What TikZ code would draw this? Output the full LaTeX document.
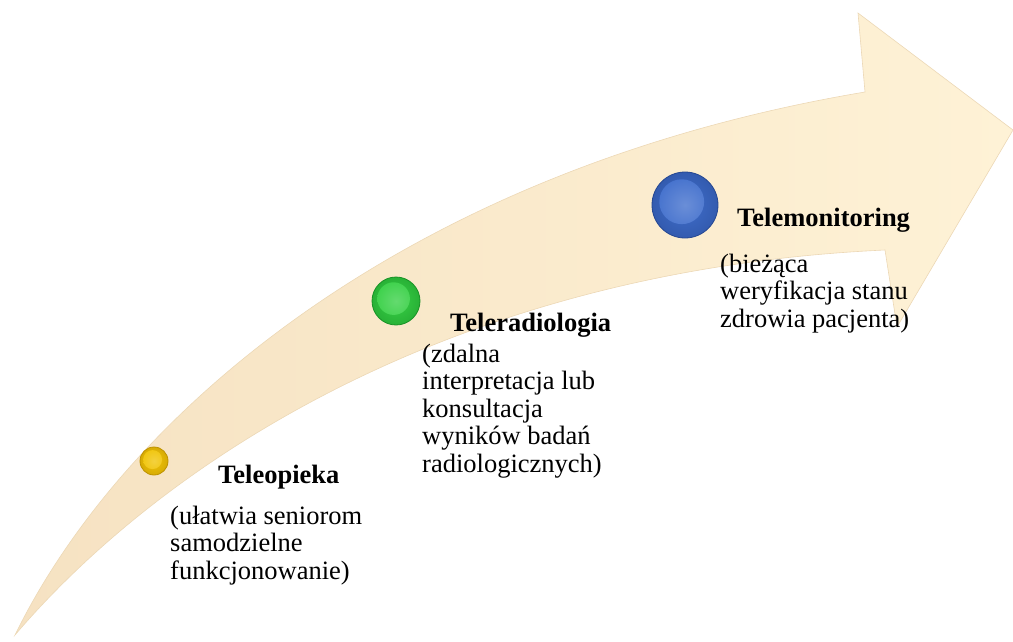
\documentclass[tikz,border=0pt]{standalone}
\usepackage{fontspec}
\setmainfont{Liberation Serif}
\definecolor{armL}{RGB}{246,226,194}
\definecolor{armR}{RGB}{254,242,214}
\definecolor{armEdge}{RGB}{236,216,182}
\definecolor{ylw}{RGB}{240,196,8}
\definecolor{ylwD}{RGB}{190,146,0}
\definecolor{grn}{RGB}{56,208,70}
\definecolor{grnD}{RGB}{24,146,38}
\definecolor{blu}{RGB}{64,110,204}
\definecolor{bluD}{RGB}{38,72,146}
\begin{document}
\begin{tikzpicture}[x=1pt,y=-1pt,
  arrowbody/.style={left color=armL, right color=armR, draw=armEdge, line width=0.6pt},
  ball/.style n args={3}{circle, minimum size=#3pt, inner sep=0pt, draw=#2, line width=0.8pt,
     inner color=#1, outer color=#2!50!#1,
     path picture={\shade[inner color=#1!78!white, outer color=#1]
        ([shift={(-0.05*#3,-0.05*#3)}]path picture bounding box.center) circle (0.34*#3);}},
  title/.style={anchor=base west, inner sep=0pt, font=\fontsize{26.5}{27.5}\selectfont\bfseries},
  body/.style={anchor=base west, inner sep=0pt, align=left, font=\fontsize{26.5}{27.5}\selectfont}
]
\useasboundingbox (0,0) rectangle (1013,641);
% curved arrow
\path[arrowbody] (15,635) .. controls (120,420) and (400,170) .. (865,92)
   -- (858,13) -- (1013,130) -- (897,327) -- (885,250)
   .. controls (450,270) and (160,465) .. (15,635) -- cycle;
% balls
\node[ball={ylw}{ylwD}{28}] (b1) at (154,461) {};
\node[ball={grn}{grnD}{48}] (b2) at (396,301) {};
\node[ball={blu}{bluD}{66}] (b3) at (685,205) {};
% texts (body anchors are at the baseline of the last line)
\node[title] (t1) at (218,483) {Teleopieka};
\node[body] (d1) at (170,579) {(ułatwia seniorom\\samodzielne\\funkcjonowanie)};
\node[title] (t2) at (450,331) {Teleradiologia};
\node[body] (d2) at (422,472) {(zdalna\\interpretacja lub\\konsultacja\\wyników badań\\radiologicznych)};
\node[title] (t3) at (737,226) {Telemonitoring};
\node[body] (d3) at (720,327) {(bieżąca\\weryfikacja stanu\\zdrowia pacjenta)};
\end{tikzpicture}
\end{document}
